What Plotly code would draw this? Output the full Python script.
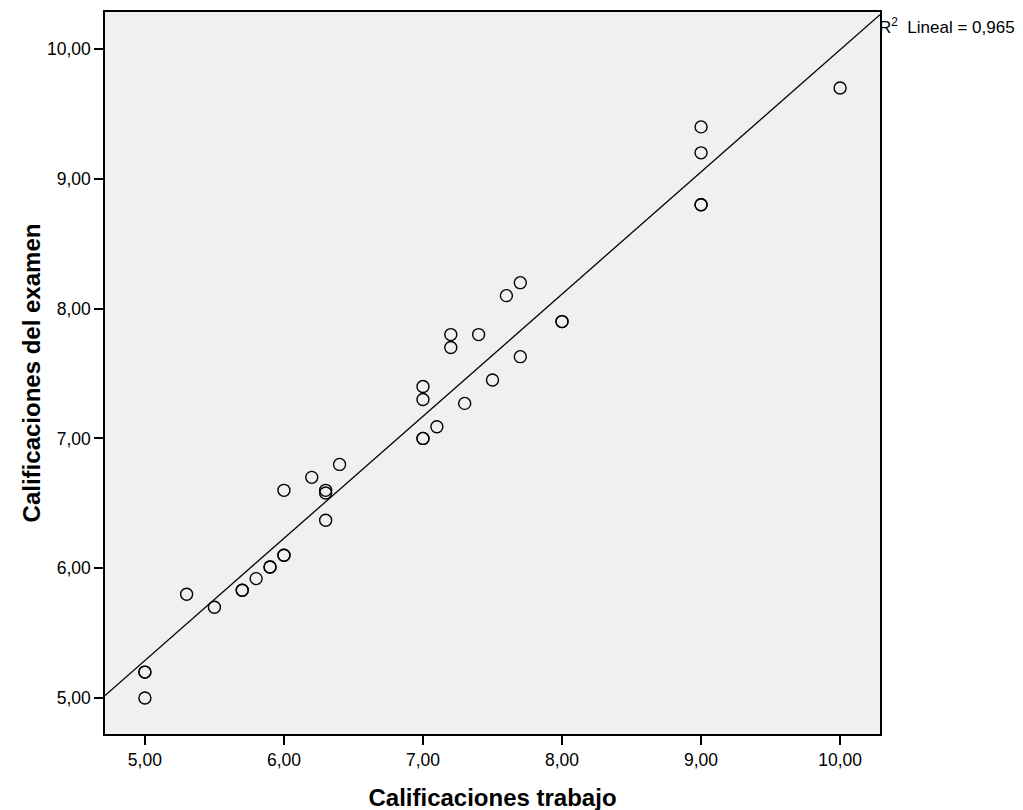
import numpy as np
import plotly.graph_objects as go

# Calificaciones trabajo (x) / Calificaciones del examen (y)
trabajo = [5.0, 5.0, 5.0, 5.3, 5.5, 5.7, 5.7, 5.8, 5.9, 5.9, 6.0, 6.0, 6.0,
           6.2, 6.3, 6.3, 6.3, 6.4, 7.0, 7.0, 7.0, 7.0, 7.1, 7.2, 7.2, 7.3,
           7.4, 7.5, 7.6, 7.7, 7.7, 8.0, 8.0, 9.0, 9.0, 9.0, 9.0, 10.0]
examen = [5.2, 5.2, 5.0, 5.8, 5.7, 5.83, 5.83, 5.92, 6.01, 6.01, 6.1, 6.1, 6.6,
          6.7, 6.6, 6.58, 6.37, 6.8, 7.0, 7.0, 7.3, 7.4, 7.09, 7.7, 7.8, 7.27,
          7.8, 7.45, 8.1, 8.2, 7.63, 7.9, 7.9, 9.4, 9.2, 8.8, 8.8, 9.7]

x_ticks = [5, 6, 7, 8, 9, 10]
y_ticks = [5, 6, 7, 8, 9, 10]
r2_label = "R<sup>2</sup>  Lineal = 0,965"

x_range = [4.713, 10.287]
y_range = [4.723, 10.285]

# ajuste lineal
b1, b0 = np.polyfit(trabajo, examen, 1)
fit_x = np.array(x_range)
fit_y = b0 + b1 * fit_x

FONT = "Liberation Sans, Arial"

fig = go.Figure()

fig.add_trace(go.Scatter(
    x=fit_x, y=fit_y, mode="lines",
    line=dict(color="black", width=1.3),
    showlegend=False, hoverinfo="skip",
))

fig.add_trace(go.Scatter(
    x=trabajo, y=examen, mode="markers",
    marker=dict(symbol="circle-open", size=12, color="black",
                line=dict(width=1.4, color="black")),
    showlegend=False,
))

axis_common = dict(
    showgrid=False, zeroline=False,
    showline=True, linecolor="black", linewidth=1.5, mirror=True,
    ticks="outside", ticklen=9, tickwidth=1.5, tickcolor="black",
    tickformat=".2f",
    tickfont=dict(family=FONT, size=17.5, color="black"),
)

fig.update_xaxes(
    range=x_range, tickvals=x_ticks,
    title=dict(text="<b>Calificaciones trabajo</b>",
               font=dict(family=FONT, size=24, color="black"),
               standoff=20),
    **axis_common,
)
fig.update_yaxes(
    range=y_range, tickvals=y_ticks,
    title=dict(text="<b>Calificaciones del examen</b>",
               font=dict(family=FONT, size=24, color="black"),
               standoff=0),
    **axis_common,
)

fig.add_annotation(
    x=1.0, xref="paper", y=fit_y[-1], yref="y",
    text=r2_label, showarrow=False,
    xanchor="left", yanchor="top", yshift=2, xshift=-3,
    font=dict(family=FONT, size=17, color="black"),
)

fig.update_layout(
    width=1023, height=810,
    margin=dict(l=97, r=151, t=4, b=84, autoexpand=False),
    plot_bgcolor="#f0f0f0", paper_bgcolor="white",
    separators=",.",
)

fig.write_html("out.html")
